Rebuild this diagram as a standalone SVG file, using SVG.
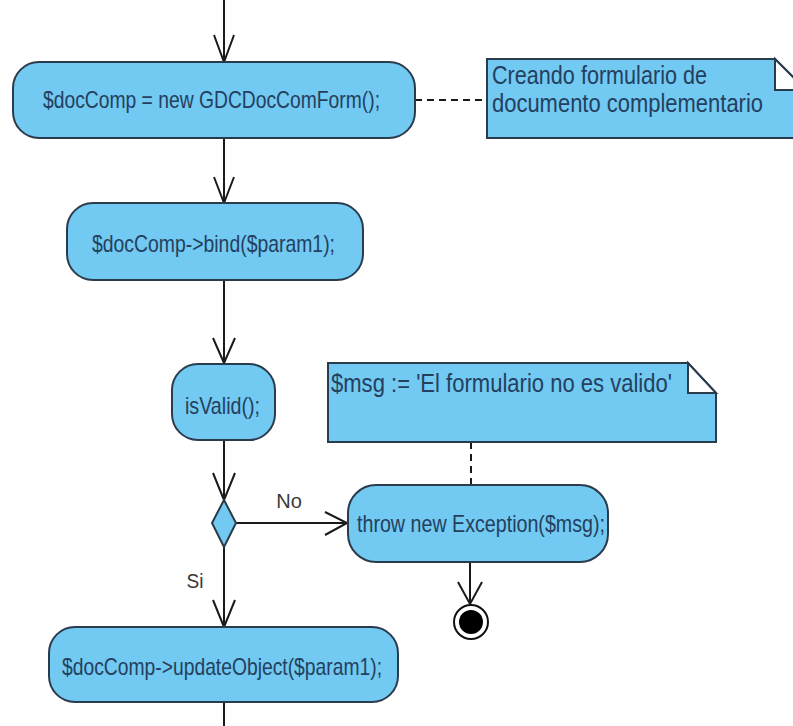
<svg xmlns="http://www.w3.org/2000/svg" width="793" height="726" viewBox="0 0 793 726">
<style>
.node{fill:#72c9f1;stroke:#2a3b4c;stroke-width:2}
.note{fill:#72c9f1;stroke:#2a3b4c;stroke-width:2}
.fold{fill:#ffffff;stroke:#2a3b4c;stroke-width:2}
.t{font-family:"Liberation Sans",Arial,sans-serif;font-size:24px;fill:#24405e}
.tn{font-family:"Liberation Sans",Arial,sans-serif;font-size:25px;fill:#24405e}
.lbl{font-family:"Liberation Sans",Arial,sans-serif;font-size:20px;fill:#3a3a3a}
.edge{fill:none;stroke:#1a1a1a;stroke-width:2}
.dash{fill:none;stroke:#1a1a1a;stroke-width:2;stroke-dasharray:7 5}
</style>
<rect width="793" height="726" fill="#ffffff"/>
<g id="connectors">
<path class="edge" d="M224 0V62M214 35L224 62L234 35"/>
<path class="edge" d="M224 138V203M214 177L224 203L234 177"/>
<path class="edge" d="M224 280V363M213 338L224 363L235 338"/>
<path class="edge" d="M224 440V500M213 473L224 500L235 473"/>
<path class="edge" d="M236 523H347M325 512L347 523L325 535"/>
<path class="edge" d="M224 547V627M213 600L224 627L235 600"/>
<path class="edge" d="M224 702V726"/>
<path class="edge" d="M470 562V604M458 582L470 604L482 582"/>
<path class="dash" d="M415 100H487"/>
<path class="dash" d="M471 442V485"/>
<text class="lbl" x="289" y="508" text-anchor="middle">No</text>
<text class="lbl" x="195" y="588" text-anchor="middle" textLength="17" lengthAdjust="spacingAndGlyphs">Si</text>
</g>
<g id="n1">
<rect class="node" x="13" y="62" width="402" height="76" rx="26"/>
<text class="t" x="43" y="108" textLength="337" lengthAdjust="spacingAndGlyphs">$docComp = new GDCDocComForm();</text>
</g>
<g id="note1">
<path class="note" d="M487 59H775L806 90V138H487Z"/>
<path class="fold" d="M775 59L806 90H775Z"/>
<text class="tn" x="492" y="84" textLength="215" lengthAdjust="spacingAndGlyphs">Creando formulario de</text>
<text class="tn" x="492" y="112" textLength="271" lengthAdjust="spacingAndGlyphs">documento complementario</text>
</g>
<g id="n2">
<rect class="node" x="67" y="203" width="296" height="77" rx="26"/>
<text class="t" x="92" y="252" textLength="243" lengthAdjust="spacingAndGlyphs">$docComp-&gt;bind($param1);</text>
</g>
<g id="n3">
<rect class="node" x="172" y="364" width="103" height="76" rx="26"/>
<text class="t" x="185" y="414" textLength="75" lengthAdjust="spacingAndGlyphs">isValid();</text>
</g>
<g id="note2">
<path class="note" d="M328 363H688L716 393V442H328Z"/>
<path class="fold" d="M688 363L716 393H688Z"/>
<text class="tn" x="331" y="392" textLength="341" lengthAdjust="spacingAndGlyphs">$msg := 'El formulario no es valido'</text>
</g>
<g id="decision">
<path class="node" d="M224 500L236 523L224 547L212 523Z"/>
</g>
<g id="n4">
<rect class="node" x="348" y="485" width="260" height="77" rx="28"/>
<text class="t" x="357" y="532" textLength="248" lengthAdjust="spacingAndGlyphs">throw new Exception($msg);</text>
</g>
<g id="final">
<circle cx="471" cy="622" r="17" fill="#ffffff" stroke="#111" stroke-width="2"/>
<circle cx="471" cy="622" r="12" fill="#000"/>
</g>
<g id="n5">
<rect class="node" x="49" y="627" width="349" height="75" rx="26"/>
<text class="t" x="62" y="675" textLength="320" lengthAdjust="spacingAndGlyphs">$docComp-&gt;updateObject($param1);</text>
</g>
</svg>
